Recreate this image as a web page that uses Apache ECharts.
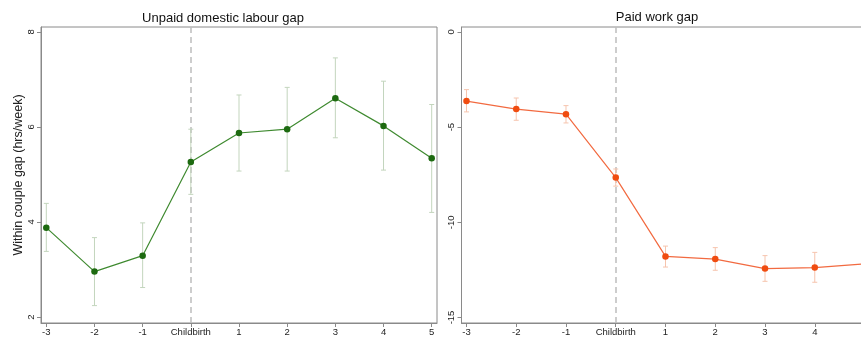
<!DOCTYPE html>
<html>
<head>
<meta charset="utf-8">
<script src="https://cdn.jsdelivr.net/npm/echarts@6/dist/echarts.min.js"></script>
<style>
html,body{margin:0;padding:0;overflow:hidden;background:#fff;}
#chart{width:880px;height:338px;}
</style>
</head>
<body>
<div id="chart"></div>
<script>
const xCats = [-3, -2, -1, 0, 1, 2, 3, 4, 5];
const xTickLabels = ['-3', '-2', '-1', 'Childbirth', '1', '2', '3', '4', '5'];
const unpaidGap  = [3.88, 2.955, 3.29, 5.26, 5.87, 5.95, 6.60, 6.02, 5.34];
const unpaidLow  = [3.38, 2.24, 2.62, 4.58, 5.07, 5.07, 5.77, 5.09, 4.20];
const unpaidHigh = [4.39, 3.67, 3.98, 5.95, 6.67, 6.83, 7.45, 6.96, 6.47];
const paidGap  = [-3.63, -4.05, -4.32, -7.65, -11.79, -11.93, -12.43, -12.38, -12.18];
const paidLow  = [-4.20, -4.64, -4.78, -8.10, -12.35, -12.52, -13.10, -13.15, -12.80];
const paidHigh = [-3.03, -3.47, -3.87, -7.20, -11.25, -11.33, -11.75, -11.58, -11.55];
const unpaidYTicks = [2, 4, 6, 8];
const paidYTicks = [-15, -10, -5, 0];

const FONT = 'Liberation Sans, Arial, Helvetica, sans-serif';
const AX = '#8a8a8a';

function xAxisDef(gridIndex, min, max) {
  return {
    type: 'value', gridIndex, min, max,
    axisLine: {show: true, onZero: false, lineStyle: {color: AX, width: 1}},
    axisTick: {show: true, length: 4, lineStyle: {color: AX}, customValues: xCats},
    axisLabel: {
      customValues: xCats, fontSize: 9.5, color: '#222', fontFamily: FONT, margin: 4,
      formatter: v => xTickLabels[xCats.indexOf(Math.round(v))]
    },
    splitLine: {show: false}
  };
}
function yAxisDef(gridIndex, min, max, ticks, name) {
  return {
    type: 'value', gridIndex, min, max,
    name: name || '', nameLocation: 'middle', nameGap: 16, nameRotate: 90,
    nameTextStyle: {fontSize: 12.5, color: '#222', fontFamily: FONT},
    axisLine: {show: true, onZero: false, lineStyle: {color: AX, width: 1}},
    axisTick: {show: true, length: 4, lineStyle: {color: AX}, customValues: ticks},
    axisLabel: {customValues: ticks, rotate: 90, fontSize: 9.5, color: '#222', fontFamily: FONT, margin: 5},
    splitLine: {show: false}
  };
}
function errBars(xi, yi, low, high, color) {
  return {
    type: 'custom', xAxisIndex: xi, yAxisIndex: yi, z: 1,
    data: xCats.map((x, i) => [x, low[i], high[i]]),
    renderItem: (params, api) => {
      const x = api.value(0);
      const a = api.coord([x, api.value(1)]);
      const b = api.coord([x, api.value(2)]);
      const st = {stroke: color, lineWidth: 1};
      return {type: 'group', children: [
        {type: 'line', shape: {x1: a[0], y1: a[1], x2: b[0], y2: b[1]}, style: st},
        {type: 'line', shape: {x1: a[0] - 2.5, y1: a[1], x2: a[0] + 2.5, y2: a[1]}, style: st},
        {type: 'line', shape: {x1: b[0] - 2.5, y1: b[1], x2: b[0] + 2.5, y2: b[1]}, style: st}
      ]};
    }
  };
}
function lineSeries(xi, yi, vals, lineColor, dotColor) {
  return {
    type: 'line', xAxisIndex: xi, yAxisIndex: yi, z: 3,
    data: xCats.map((x, i) => [x, vals[i]]),
    symbol: 'circle', symbolSize: 6.5, showSymbol: true,
    lineStyle: {color: lineColor, width: 1.2},
    itemStyle: {color: dotColor},
    emphasis: {disabled: true},
    markLine: {
      silent: true, symbol: 'none', label: {show: false}, z: 0,
      lineStyle: {color: '#bdbdbd', type: [6, 4], width: 1.5},
      data: [{xAxis: 0}]
    }
  };
}

const chart = echarts.init(document.getElementById('chart'), null, {renderer: 'canvas'});
chart.setOption({
  animation: false,
  backgroundColor: '#fff',
  grid: [
    {left: 41, top: 27, width: 396, height: 296, show: true, borderColor: AX, borderWidth: 1, backgroundColor: 'transparent'},
    {left: 461.5, top: 27, width: 408, height: 296, show: true, borderColor: AX, borderWidth: 1, backgroundColor: 'transparent'}
  ],
  xAxis: [xAxisDef(0, -3.11, 5.11), xAxisDef(1, -3.1, 5.1)],
  yAxis: [
    yAxisDef(0, 1.874, 8.1, unpaidYTicks, 'Within couple gap (hrs/week)'),
    yAxisDef(1, -15.29, 0.26, paidYTicks, '')
  ],
  graphic: [
    {type: 'text', x: 223, y: 18, style: {text: 'Unpaid domestic labour gap', fontSize: 13, fontFamily: FONT, fill: '#111', textAlign: 'center', textVerticalAlign: 'middle'}},
    {type: 'text', x: 657, y: 17, style: {text: 'Paid work gap', fontSize: 13, fontFamily: FONT, fill: '#111', textAlign: 'center', textVerticalAlign: 'middle'}}
  ],
  series: [
    errBars(0, 0, unpaidLow, unpaidHigh, '#c3d5bd'),
    lineSeries(0, 0, unpaidGap, '#3f8a30', '#1d6a10'),
    errBars(1, 1, paidLow, paidHigh, '#f6c4ad'),
    lineSeries(1, 1, paidGap, '#f26a40', '#f04c10')
  ]
});
</script>
</body>
</html>
